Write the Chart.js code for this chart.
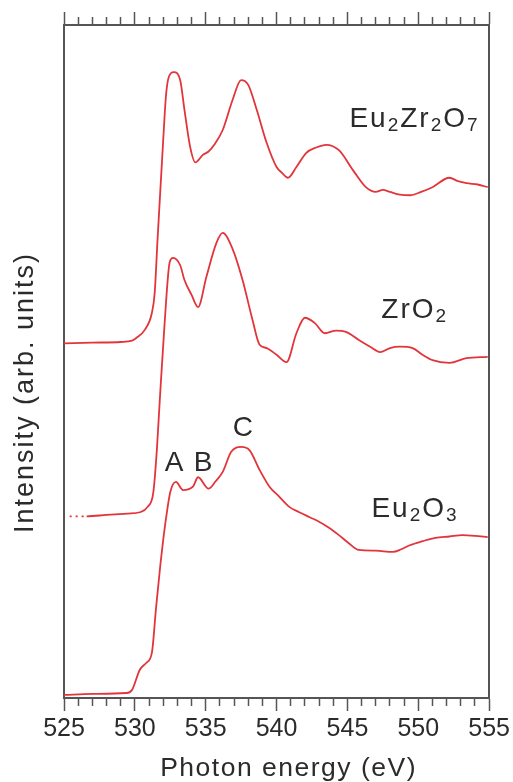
<!DOCTYPE html>
<html lang="en">
  <head>
    <meta charset="UTF-8" />
    <title>O K-edge XAS</title>
    <script src="https://cdn.jsdelivr.net/npm/chart.js"></script>
    <style>
      html, body { margin: 0; padding: 0; background: #fff; }
      .chart-box { width: 513px; height: 782px; position: relative; }
    </style>
  </head>
  <body>
    <div class="chart-box"><canvas id="xas"></canvas></div>

    <script>
      // energies (eV) and offset intensities (arb. units)
      const eu2zr2o7Energy = [525, 527, 529, 529.8, 530.1, 530.7, 531.2, 531.4, 531.6, 531.8, 532.0, 532.2, 532.4, 532.75, 533.2, 533.5, 533.9, 534.27, 534.8, 535.2, 535.6, 536.2, 536.9, 537.5, 538.0, 538.6, 539.3, 540.0, 540.4, 540.8, 541.4, 542.1, 542.8, 543.5, 544.4, 545.4, 546.3, 547.0, 547.5, 548.0, 548.7, 549.4, 550.2, 551.0, 552.2, 552.8, 553.4, 554.2, 554.9];
      const eu2zr2o7Intensity = [5.27, 5.28, 5.29, 5.31, 5.35, 5.47, 5.72, 6.02, 6.81, 7.55, 8.29, 8.96, 9.23, 9.30, 9.18, 8.74, 8.19, 7.96, 8.07, 8.12, 8.22, 8.44, 8.89, 9.18, 9.11, 8.74, 8.25, 7.89, 7.80, 7.73, 7.89, 8.10, 8.18, 8.22, 8.14, 7.84, 7.59, 7.52, 7.55, 7.52, 7.48, 7.47, 7.52, 7.59, 7.73, 7.68, 7.65, 7.63, 7.59];

      const zro2Energy = [525.4, 526.6, 528, 529.5, 530.35, 530.9, 531.3, 531.55, 531.76, 532.1, 532.46, 532.7, 533.2, 533.5, 534.0, 534.46, 535.05, 535.75, 536.2, 536.9, 537.6, 538.3, 538.8, 539.3, 540.0, 540.7, 541.4, 542.0, 542.7, 543.4, 544.2, 544.9, 545.8, 546.6, 547.3, 548.0, 548.7, 549.6, 550.3, 551.0, 552.2, 553.4, 554.9];
      const zro2Intensity = [2.70, 2.70, 2.72, 2.74, 2.76, 2.84, 3.05, 3.68, 4.43, 5.57, 6.48, 6.54, 6.43, 6.21, 5.99, 5.81, 6.26, 6.76, 6.91, 6.67, 6.21, 5.62, 5.25, 5.20, 5.10, 4.99, 5.42, 5.65, 5.57, 5.42, 5.46, 5.44, 5.32, 5.22, 5.14, 5.20, 5.22, 5.20, 5.10, 5.02, 4.98, 5.05, 5.07];

      const eu2o3Energy = [525, 527, 529.4, 529.8, 530.35, 530.8, 531.2, 531.5, 531.8, 532.0, 532.2, 532.5, 532.9, 533.4, 534.1, 534.46, 535.2, 535.7, 536.2, 536.8, 537.5, 538.1, 538.8, 539.5, 540.2, 540.9, 541.6, 542.3, 543.0, 543.7, 544.4, 545.1, 545.8, 547.0, 548.2, 548.8, 549.4, 550.3, 551.2, 552.2, 553.1, 554.0, 554.9];
      const eu2o3Intensity = [0.045, 0.06, 0.074, 0.12, 0.42, 0.52, 0.67, 1.35, 1.98, 2.35, 2.67, 3.06, 3.21, 3.09, 3.14, 3.28, 3.11, 3.22, 3.36, 3.66, 3.73, 3.68, 3.39, 3.14, 2.99, 2.84, 2.76, 2.69, 2.62, 2.53, 2.42, 2.30, 2.20, 2.19, 2.17, 2.21, 2.27, 2.33, 2.38, 2.40, 2.42, 2.41, 2.39];

      const xMin = 525;
      const xMax = 555;
      const xMajorStep = 5;

      const FONT = "'Liberation Sans', Arial, Helvetica, sans-serif";
      const INK = "#2b2b2b";
      const AXIS = "#555";
      const RED = "#e2353b";

      function toPoints(xs, ys) {
        return xs.map((x, i) => ({ x: x, y: ys[i] }));
      }

      // sample names and peak letters, anchored in data units
      const textLabels = [
        { parts: [["Eu", 0], ["2", 1], ["Zr", 0], ["2", 1], ["O", 0], ["7", 1]], x: 545.14, y: 8.48 },
        { parts: [["ZrO", 0], ["2", 1]], x: 547.39, y: 5.65 },
        { parts: [["Eu", 0], ["2", 1], ["O", 0], ["3", 1]], x: 546.69, y: 2.69 },
        { parts: [["A", 0]], x: 532.11, y: 3.37 },
        { parts: [["B", 0]], x: 534.15, y: 3.37 },
        { parts: [["C", 0]], x: 536.9, y: 3.89 },
      ];

      const annotate = {
        id: "annotate",
        afterDraw(chart) {
          const { ctx, scales } = chart;
          ctx.save();
          ctx.fillStyle = INK;
          ctx.textBaseline = "alphabetic";
          ctx.textAlign = "left";

          textLabels.forEach((lab) => {
            let px = scales.x.getPixelForValue(lab.x);
            const py = scales.y.getPixelForValue(lab.y);
            lab.parts.forEach(([txt, sub]) => {
              ctx.font = (sub ? "19px " : "28px ") + FONT;
              ctx.letterSpacing = "2px";
              ctx.fillText(txt, px, py + (sub ? 4 : 0));
              px += ctx.measureText(txt).width;
            });
          });

          // axis titles
          const area = chart.chartArea;
          ctx.letterSpacing = "1.5px";
          ctx.font = "26.5px " + FONT;
          ctx.textAlign = "center";
          ctx.fillText("Photon energy (eV)", (area.left + area.right) / 2 + 12, 776);

          ctx.letterSpacing = "2px";
          ctx.font = "27px " + FONT;
          ctx.translate(33, (area.top + area.bottom) / 2 + 31);
          ctx.rotate(-Math.PI / 2);
          ctx.fillText("Intensity (arb. units)", 0, 0);
          ctx.restore();
        },
      };

      function createChart() {
        const line = {
          borderColor: RED,
          borderWidth: 1.8,
          pointRadius: 0,
          fill: false,
          cubicInterpolationMode: "monotone",
        };

        const isMinor = (c) => c.tick && Math.round(c.tick.value) % xMajorStep !== 0;

        new Chart(document.getElementById("xas"), {
          type: "line",
          data: {
            datasets: [
              { ...line, label: "Eu2Zr2O7", data: toPoints(eu2zr2o7Energy, eu2zr2o7Intensity) },
              {
                ...line,
                label: "ZrO2",
                data: toPoints(zro2Energy, zro2Intensity),
                segment: {
                  borderDash: (c) => (c.p1.parsed.x <= 526.6 ? [2, 4] : undefined),
                },
              },
              { ...line, label: "Eu2O3", data: toPoints(eu2o3Energy, eu2o3Intensity) },
            ],
          },
          options: {
            responsive: true,
            maintainAspectRatio: false,
            animation: false,
            layout: { padding: 0 },
            plugins: {
              legend: { display: false },
              tooltip: { enabled: false },
            },
            scales: {
              x: {
                type: "linear",
                position: "bottom",
                min: xMin,
                max: xMax,
                afterFit: (s) => { s.height = 84; },
                ticks: {
                  stepSize: 1,
                  autoSkip: false,
                  maxRotation: 0,
                  padding: 3,
                  color: INK,
                  font: { family: FONT, size: 25 },
                  callback: (v) => (Math.round(v) % xMajorStep === 0 ? v : ""),
                },
                grid: {
                  drawOnChartArea: false,
                  tickLength: 13,
                  tickWidth: 1.5,
                  tickColor: AXIS,
                  tickBorderDash: (c) => (isMinor(c) ? [7, 100] : []),
                },
                border: { color: AXIS, width: 2 },
              },
              xTop: {
                type: "linear",
                position: "top",
                min: xMin,
                max: xMax,
                afterFit: (s) => { s.height = 25; },
                ticks: { stepSize: 1, autoSkip: false, display: false },
                grid: {
                  drawOnChartArea: false,
                  tickLength: 13,
                  tickWidth: 1.5,
                  tickColor: AXIS,
                  tickBorderDash: (c) => (isMinor(c) ? [0, 5, 8, 100] : []),
                },
                border: { color: AXIS, width: 2 },
              },
              y: {
                position: "left",
                min: 0,
                max: 10,
                afterFit: (s) => { s.width = 64; },
                ticks: { display: false },
                grid: { drawOnChartArea: false, drawTicks: false },
                border: { color: AXIS, width: 2 },
              },
              yRight: {
                position: "right",
                min: 0,
                max: 10,
                afterFit: (s) => { s.width = 23; },
                ticks: { display: false },
                grid: { drawOnChartArea: false, drawTicks: false },
                border: { color: AXIS, width: 2 },
              },
            },
          },
          plugins: [annotate],
        });
      }

      document.addEventListener("DOMContentLoaded", createChart);
    </script>
  </body>
</html>
